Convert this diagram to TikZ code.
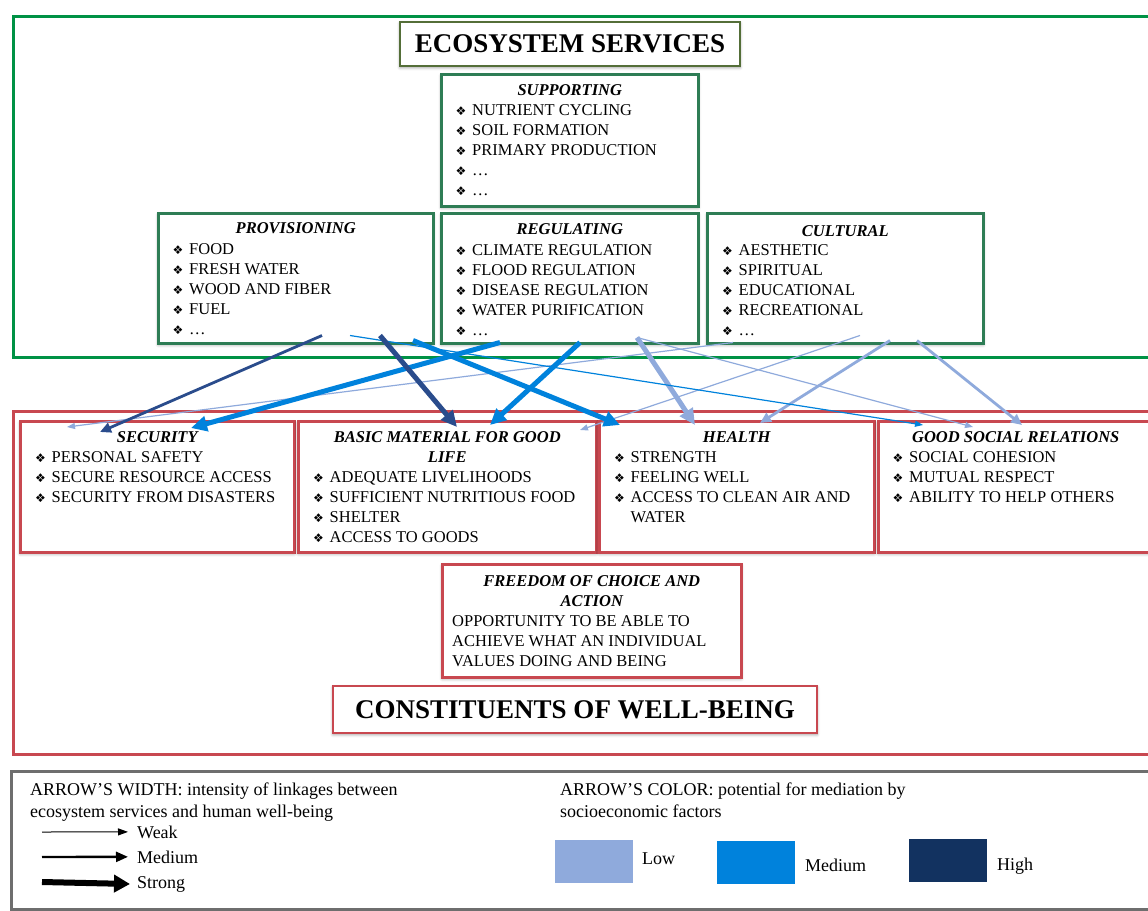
\documentclass[tikz,border=0pt]{standalone}
\usepackage{fontspec}
\setmainfont{Liberation Serif}
\newfontfamily\symfont{DejaVu Sans}
\usetikzlibrary{positioning,calc,arrows.meta,shadows.blur}

\definecolor{esgreen}{RGB}{0,146,69}
\definecolor{boxgreen}{RGB}{46,125,85}
\definecolor{titlegreen}{RGB}{84,110,56}
\definecolor{wbred}{RGB}{200,72,80}
\definecolor{framegray}{RGB}{110,110,110}
\definecolor{lowblue}{RGB}{143,170,220}
\definecolor{midblue}{RGB}{0,130,220}
\definecolor{highblue}{RGB}{42,76,140}
\definecolor{highswatch}{RGB}{18,50,96}

% bullet used in every list
\newlength{\itmw}\setlength{\itmw}{16.5pt}
\newcommand{\itm}{\makebox[\itmw][l]{\symfont\fontsize{12}{12}\selectfont ❖}}

\begin{document}
\begin{tikzpicture}
  [x=1pt, y=-1pt,
   frame/.style={draw=#1, line width=3pt, anchor=north west, inner sep=0pt},
   esbox/.style={draw=boxgreen, line width=2.5pt, fill=white, anchor=north west, inner sep=0pt,
     blur shadow={shadow xshift=0pt, shadow yshift=-1.5pt, shadow blur radius=3pt, shadow opacity=40}},
   wbbox/.style={esbox, draw=wbred},
   % lists and headings hang from their top edge
   boxhead/.style={font=\fontsize{16.5}{20}\selectfont\bfseries\itshape, anchor=north, align=center,
     inner sep=0pt, execute at begin node=\strut},
   boxlist/.style={font=\fontsize{16.5}{20}\selectfont, anchor=north west, align=left,
     inner sep=0pt, execute at begin node=\strut},
   bigtitle/.style={font=\fontsize{27}{30}\selectfont\bfseries, fill=white, line width=2.5pt,
     blur shadow={shadow xshift=0pt, shadow yshift=-1.5pt, shadow blur radius=3pt, shadow opacity=40}},
   legendtext/.style={font=\fontsize{18}{22}\selectfont, anchor=north west, align=left,
     inner sep=0pt, execute at begin node=\strut},
   legendlabel/.style={font=\fontsize{18}{22}\selectfont, anchor=base west, inner sep=0pt},
   swatch/.style={fill=#1, minimum width=78pt, minimum height=43pt, anchor=north west, inner sep=0pt},
   weaklink/.style={line width=1.2pt, -{Triangle[length=8pt,width=6pt]}},
   mediumlink/.style={line width=2.8pt, -{Triangle[length=11pt,width=10pt]}},
   stronglink/.style={line width=5pt, -{Triangle[length=16pt,width=15pt]}}
  ]
  \useasboundingbox (0,0) rectangle (1148,910);

  % outer frames
  \node[frame=esgreen, minimum width=1150pt, minimum height=341pt] (esframe) at (12,15) {};
  \node[frame=wbred, minimum width=1150pt, minimum height=343pt] (wbframe) at (12,410) {};
  \node[frame=framegray, line width=2.5pt, minimum width=1150pt, minimum height=138pt] (legendframe) at (10,770) {};

  %% ecosystem services
  \node[bigtitle, draw=titlegreen, minimum width=340pt, minimum height=44pt] (estitle) at (570,44) {ECOSYSTEM SERVICES};

  \node[esbox, minimum width=257pt, minimum height=132pt] (supporting) at (440,73) {};
  \node[boxhead] (supportinghead) at ($(supporting.north)+(0,8.5)$) {SUPPORTING};
  \node[boxlist] (supportinglist) at ($(supporting.north west)+(15.5,31.5)$)
    {\itm NUTRIENT CYCLING\\ \itm SOIL FORMATION\\ \itm PRIMARY PRODUCTION\\ \itm …\\ \itm …};

  \node[esbox, minimum width=275pt, minimum height=130pt] (prov) at (157,212) {};
  \node[boxhead] (provhead) at ($(prov.north)+(0,7.5)$) {PROVISIONING};
  \node[boxlist] (provlist) at ($(prov.north west)+(15.5,31.5)$)
    {\itm FOOD\\ \itm FRESH WATER\\ \itm WOOD AND FIBER\\ \itm FUEL\\ \itm …};

  \node[esbox, minimum width=257pt, minimum height=130pt] (reg) at (440,212) {};
  \node[boxhead] (reghead) at ($(reg.north)+(0,8.5)$) {REGULATING};
  \node[boxlist] (reglist) at ($(reg.north west)+(15.5,32.5)$)
    {\itm CLIMATE REGULATION\\ \itm FLOOD REGULATION\\ \itm DISEASE REGULATION\\ \itm WATER PURIFICATION\\ \itm …};

  \node[esbox, minimum width=276pt, minimum height=130pt] (cult) at (706,212) {};
  \node[boxhead] (culthead) at ($(cult.north)+(0,10)$) {CULTURAL};
  \node[boxlist] (cultlist) at ($(cult.north west)+(16,32.5)$)
    {\itm AESTHETIC\\ \itm SPIRITUAL\\ \itm EDUCATIONAL\\ \itm RECREATIONAL\\ \itm …};

  %% constituents of well-being
  \node[wbbox, minimum width=274pt, minimum height=131pt] (sec) at (19,420) {};
  \node[boxhead] (sechead) at ($(sec.north)+(0,8.5)$) {SECURITY};
  \node[boxlist] (seclist) at ($(sec.north west)+(16,31.5)$)
    {\itm PERSONAL SAFETY\\ \itm SECURE RESOURCE ACCESS\\ \itm SECURITY FROM DISASTERS};

  \node[wbbox, minimum width=298pt, minimum height=131pt] (basic) at (297,420) {};
  \node[boxhead] (basichead) at ($(basic.north)+(0,11.5)$) {BASIC MATERIAL FOR GOOD\\LIFE};
  \node[boxlist] (basiclist) at ($(basic.north west)+(16,51.5)$)
    {\itm ADEQUATE LIVELIHOODS\\ \itm SUFFICIENT NUTRITIOUS FOOD\\ \itm SHELTER\\ \itm ACCESS TO GOODS};

  \node[wbbox, minimum width=275pt, minimum height=131pt] (health) at (598,420) {};
  \node[boxhead] (healthhead) at ($(health.north)+(0,8.5)$) {HEALTH};
  \node[boxlist] (healthlist) at ($(health.north west)+(16,31.5)$)
    {\itm STRENGTH\\ \itm FEELING WELL\\ \itm ACCESS TO CLEAN AIR AND\\ \hspace*{\itmw}WATER};

  \node[wbbox, minimum width=275pt, minimum height=131pt] (gsr) at (877,420) {};
  \node[boxhead] (gsrhead) at ($(gsr.north)+(0,8.5)$) {GOOD SOCIAL RELATIONS};
  \node[boxlist] (gsrlist) at ($(gsr.north west)+(15.5,31.5)$)
    {\itm SOCIAL COHESION\\ \itm MUTUAL RESPECT\\ \itm ABILITY TO HELP OTHERS};

  \node[wbbox, minimum width=299pt, minimum height=113pt] (freedom) at (441,563) {};
  \node[boxhead] (freedomhead) at ($(freedom.north)+(0,12.5)$) {FREEDOM OF CHOICE AND\\ACTION};
  \node[boxlist] (freedomlist) at ($(freedom.north west)+(11,52.5)$)
    {OPPORTUNITY TO BE ABLE TO\\ ACHIEVE WHAT AN INDIVIDUAL\\ VALUES DOING AND BEING};

  \node[bigtitle, draw=wbred, minimum width=484pt, minimum height=47pt] (wbtitle) at (575,709.5) {CONSTITUENTS OF WELL-BEING};

  %% linkages (colour = mediation, width = intensity)
  \draw[weaklink, lowblue] ($(reg.south west)+(197,-7)$) -- ($(gsr.north west)+(96,7)$);
  \draw[weaklink, lowblue] ($(cult.south west)+(27,-2)$) -- ($(sec.north west)+(48,7)$);
  \draw[weaklink, lowblue] ($(cult.south west)+(154,-9)$) -- ($(basic.north west)+(283,10)$);
  \draw[mediumlink, lowblue] ($(cult.south west)+(184,-4)$) -- ($(health.north west)+(162,3)$);
  \draw[mediumlink, lowblue] ($(cult.south west)+(211,-4)$) -- ($(gsr.north west)+(145,5)$);
  \draw[stronglink, lowblue] ($(reg.south west)+(197,-7)$) -- ($(health.north west)+(97,5)$);

  \draw[weaklink, midblue] ($(prov.south west)+(193,-9)$) -- ($(gsr.north west)+(46,5)$);
  \draw[stronglink, midblue] ($(reg.south west)+(60,-2)$) -- ($(sec.north west)+(172,8)$);
  \draw[stronglink, midblue] ($(prov.south west)+(256,-4)$) -- ($(health.north west)+(22,5)$);
  \draw[stronglink, midblue] ($(reg.south west)+(140,-2)$) -- ($(basic.north west)+(193,5)$);

  \draw[mediumlink, highblue] ($(prov.south west)+(165,-9)$) -- ($(sec.north west)+(81,12)$);
  \draw[stronglink, highblue] ($(prov.south west)+(223,-9)$) -- ($(basic.north west)+(160,7)$);

  %% legend
  \node[legendtext] (widthhead) at (30,783) {ARROW’S WIDTH: intensity of linkages between\\ecosystem services and human well-being};
  \node[legendlabel] (weaklabel) at (137,838) {Weak};
  \node[legendlabel] (mediumlabel) at (137,863) {Medium};
  \node[legendlabel] (stronglabel) at (137,888) {Strong};
  \coordinate (weakstart) at (42,832);
  \coordinate (mediumstart) at (42,857);
  \coordinate (strongstart) at (42,882);
  \draw[line width=1pt, -{Triangle[length=10pt,width=7pt]}] (weakstart) -- ($(weaklabel.west)+(-9,0)$);
  \draw[line width=2.4pt, -{Triangle[length=12pt,width=10pt]}] (mediumstart) -- ($(mediumlabel.west)+(-9,0)$);
  \draw[line width=6pt, -{Triangle[length=16pt,width=17pt]}] (strongstart) -- ($(stronglabel.west)+(-7,0)$);

  \node[legendtext] (colorhead) at (560,783) {ARROW’S COLOR: potential for mediation by\\socioeconomic factors};
  \node[swatch=lowblue] (lowswatch) at (555,840) {};
  \node[swatch=midblue] (midswatch) at (717,841) {};
  \node[swatch=highswatch] (highswatchbox) at (909,839) {};
  \node[legendlabel] (lowlabel) at (642,864) {Low};
  \node[legendlabel] (midlabel) at (805,871) {Medium};
  \node[legendlabel] (highlabel) at (997,870) {High};
\end{tikzpicture}
\end{document}
